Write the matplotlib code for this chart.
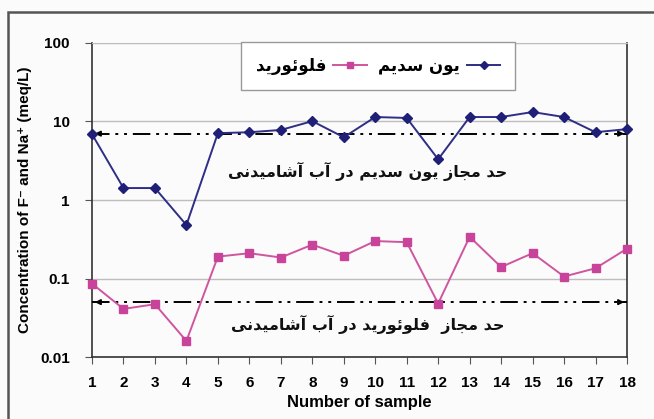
import numpy as np
import matplotlib
matplotlib.use("Agg")
import matplotlib.pyplot as plt
from matplotlib.patches import Rectangle

# sample numbers and measured concentrations (meq/L)
samples = list(range(1, 19))
sodium = [6.9, 1.42, 1.42, 0.48, 7.1, 7.3, 7.8, 10.1, 6.3, 11.4, 11.1, 3.3, 11.4, 11.4, 13.2, 11.4, 7.3, 8.0]
fluoride = [0.086, 0.041, 0.047, 0.016, 0.19, 0.21, 0.185, 0.27, 0.195, 0.30, 0.29, 0.048, 0.34, 0.14, 0.21, 0.106, 0.135, 0.24]

# drinking water limits
sodium_limit = 7.0
fluoride_limit = 0.05

label_sodium = "یون سدیم"
label_fluoride = "فلوئورید"
note_sodium = "حد مجاز یون سدیم در آب آشامیدنی"
note_fluoride = "حد مجاز  فلوئورید در آب آشامیدنی"
y_ticks = [0.01, 0.1, 1, 10, 100]
y_tick_labels = ["0.01", "0.1", "1", "10", "100"]


# matplotlib has no Arabic shaping, so pick presentation forms by hand
# forms: isolated, final, initial, medial
FORMS = {
    "ا": ("\uFE8D", "\uFE8E"), "آ": ("\uFE81", "\uFE82"),
    "د": ("\uFEA9", "\uFEAA"), "ر": ("\uFEAD", "\uFEAE"),
    "ز": ("\uFEAF", "\uFEB0"), "و": ("\uFEED", "\uFEEE"),
    "ب": ("\uFE8F", "\uFE90", "\uFE91", "\uFE92"),
    "ج": ("\uFE9D", "\uFE9E", "\uFE9F", "\uFEA0"),
    "ح": ("\uFEA1", "\uFEA2", "\uFEA3", "\uFEA4"),
    "س": ("\uFEB1", "\uFEB2", "\uFEB3", "\uFEB4"),
    "ش": ("\uFEB5", "\uFEB6", "\uFEB7", "\uFEB8"),
    "ف": ("\uFED1", "\uFED2", "\uFED3", "\uFED4"),
    "ل": ("\uFEDD", "\uFEDE", "\uFEDF", "\uFEE0"),
    "م": ("\uFEE1", "\uFEE2", "\uFEE3", "\uFEE4"),
    "ن": ("\uFEE5", "\uFEE6", "\uFEE7", "\uFEE8"),
    "ئ": ("\uFE89", "\uFE8A", "\uFE8B", "\uFE8C"),
    "ی": ("\uFBFC", "\uFBFD", "\uFBFE", "\uFBFF"),
}


def shape(text):
    out = []
    for i, ch in enumerate(text):
        if ch not in FORMS:
            out.append(ch)
            continue
        prev = text[i - 1] if i > 0 else " "
        nxt = text[i + 1] if i + 1 < len(text) else " "
        join_prev = prev in FORMS and len(FORMS[prev]) == 4
        join_next = len(FORMS[ch]) == 4 and nxt in FORMS
        f = FORMS[ch]
        if join_prev and join_next:
            out.append(f[3])
        elif join_prev:
            out.append(f[1])
        elif join_next:
            out.append(f[2])
        else:
            out.append(f[0])
    return "".join(out)[::-1]


plt.rcParams["font.family"] = ["Liberation Sans", "DejaVu Sans"]
fa_font = ["DejaVu Sans"]

fig = plt.figure(figsize=(6.54, 4.19), dpi=100)
fig.patch.set_facecolor("#fbfbfb")
fig.patches.append(Rectangle((8 / 654, -0.05), 1.0, 1 - 12 / 419 + 0.05,
                             transform=fig.transFigure, fill=False,
                             edgecolor="#555555", linewidth=1.8))

ax = fig.add_axes([92 / 654, 1 - 357 / 419, 535 / 654, 314 / 419])
ax.set_facecolor("#fbfbfb")
ax.set_yscale("log")
ax.set_ylim(0.01, 100)
ax.set_xlim(1, 18)

ax.grid(axis="y", which="major", color="#bdbdbd", linewidth=1.0)
ax.spines["top"].set_color("#bdbdbd")
for s in ["left", "bottom", "right"]:
    ax.spines[s].set_color("#333333")
    ax.spines[s].set_linewidth(1.2)

na_line, = ax.plot(samples, sodium, color="#2e2e86", linewidth=1.4, marker="D",
                   markersize=5, markerfacecolor="#1f1f78", markeredgecolor="#1f1f78",
                   clip_on=False, zorder=4)
f_line, = ax.plot(samples, fluoride, color="#d0559f", linewidth=1.4, marker="s",
                  markersize=6, markerfacecolor="#c8449a", markeredgecolor="#c8449a",
                  clip_on=False, zorder=4)

# limit lines with arrowheads at both ends
for lim in [sodium_limit, fluoride_limit]:
    ax.plot([1, 18], [lim, lim], color="black", linewidth=1.4,
            dashes=(9, 3, 1.5, 3, 1.5, 3), zorder=3)
    ax.annotate("", xy=(1, lim), xytext=(1.35, lim),
                arrowprops=dict(arrowstyle="-|>", color="black", lw=1.2,
                                mutation_scale=8))
    ax.annotate("", xy=(18, lim), xytext=(17.65, lim),
                arrowprops=dict(arrowstyle="-|>", color="black", lw=1.2,
                                mutation_scale=8))

ax.text(0.515, 1 - (171 - 43) / 314, shape(note_sodium), transform=ax.transAxes,
        ha="center", va="center", fontsize=11.5, fontweight="bold",
        family=fa_font, color="#111111")
ax.text(0.515, 1 - (324 - 43) / 314, shape(note_fluoride), transform=ax.transAxes,
        ha="center", va="center", fontsize=11.5, fontweight="bold",
        family=fa_font, color="#111111")

ax.set_xticks(samples)
ax.set_xticklabels([str(s) for s in samples], fontsize=11, fontweight="bold")
ax.set_yticks(y_ticks)
ax.set_yticklabels(y_tick_labels, fontsize=11, fontweight="bold")
ax.yaxis.set_minor_locator(matplotlib.ticker.NullLocator())
ax.tick_params(axis="both", direction="out", length=5, color="#555555")
ax.tick_params(axis="x", pad=9)
ax.tick_params(axis="y", pad=11)

ax.set_xlabel("Number of sample", fontsize=12, fontweight="bold", labelpad=3)
ax.set_ylabel("Concentration of F\u207b and Na\u207a (meq/L)", fontsize=11,
              fontweight="bold", labelpad=6)

leg = ax.legend([f_line, na_line], [shape(label_fluoride), shape(label_sodium)],
                ncol=2, markerfirst=False, loc="center",
                bbox_to_anchor=(0.535, 0.927), fancybox=False, framealpha=1,
                edgecolor="#999999", prop={"family": fa_font, "weight": "bold", "size": 12},
                handlelength=2.0, handletextpad=0.4, columnspacing=0.7,
                borderpad=0.9, markerscale=0.8)
leg.get_frame().set_linewidth(1.0)

fig.savefig("out.png", dpi=100, facecolor=fig.get_facecolor())
